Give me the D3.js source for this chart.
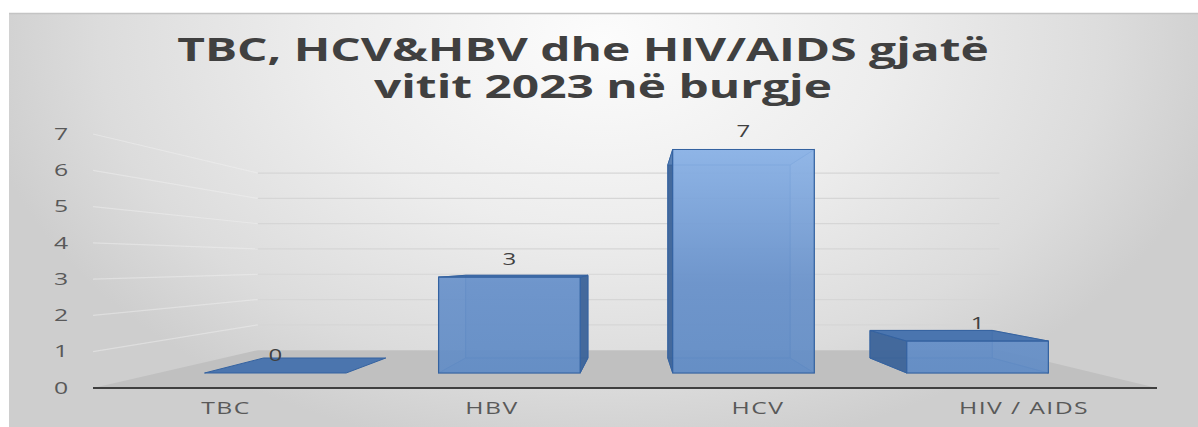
<!DOCTYPE html>
<html>
<head>
<meta charset="utf-8">
<script src="https://cdn.jsdelivr.net/npm/d3@7"></script>
<style>
  html, body { margin: 0; padding: 0; background: #ffffff; }
  svg { display: block; }
  text { font-family: "Open Sans", "Noto Sans", sans-serif; }
</style>
</head>
<body>
<svg id="chart" width="1198" height="427"></svg>
<script>
// Data
const categories = ["TBC", "HBV", "HCV", "HIV / AIDS"];
const values = [0, 3, 7, 1];
const yTicks = [0, 1, 2, 3, 4, 5, 6, 7];
const titleLines = ["TBC, HCV&HBV dhe HIV/AIDS gjatë", "vitit 2023 në burgje"];

const W = 1198, H = 427;
const svg = d3.select("#chart");
const defs = svg.append("defs");

// Horizontal text stretch used by the chart
const SX = 1.55, SX_TITLE = 1.52;

// Background gradient of the chart area
const bg = defs.append("radialGradient")
  .attr("id", "bgGrad")
  .attr("gradientUnits", "userSpaceOnUse")
  .attr("cx", 603).attr("cy", 40).attr("r", 1)
  .attr("gradientTransform", "translate(603,40) scale(630,420) translate(-603,-40)");
bg.append("stop").attr("offset", 0).attr("stop-color", "#fcfcfc");
bg.append("stop").attr("offset", 0.45).attr("stop-color", "#ededed");
bg.append("stop").attr("offset", 0.8).attr("stop-color", "#dcdcdc");
bg.append("stop").attr("offset", 1).attr("stop-color", "#cecece");

const frontGrad = defs.append("linearGradient")
  .attr("id", "frontGrad")
  .attr("gradientUnits", "userSpaceOnUse")
  .attr("x1", 0).attr("y1", 140).attr("x2", 0).attr("y2", 380);
frontGrad.append("stop").attr("offset", 0).attr("stop-color", "#8cb4e8");
frontGrad.append("stop").attr("offset", 0.6).attr("stop-color", "#6891ca");
frontGrad.append("stop").attr("offset", 1).attr("stop-color", "#618cc5");

svg.append("rect")
  .attr("x", 9).attr("y", 13).attr("width", W - 9).attr("height", H - 13)
  .attr("fill", "url(#bgGrad)");
svg.append("line")
  .attr("x1", 9).attr("x2", W).attr("y1", 13.5).attr("y2", 13.5)
  .attr("stroke", "#c4c4c4").attr("stroke-width", 1.5);

// Scales on the front plane
const x = d3.scaleBand().domain(categories).range([93, 1157]);
const y = d3.scaleLinear().domain([0, 7]).range([388, 134]);

// One-point perspective: depth factor s = 1 at the front plane
const VP = [637, 263];
const proj = (X, Y, s) => [VP[0] + (X - VP[0]) * s, VP[1] + (Y - VP[1]) * s];
const S_BACK = 0.697;             // back wall
const S_BAR_FRONT = 0.88, S_BAR_BACK = 0.76;
const poly = pts => "M" + pts.map(p => p.join(",")).join("L") + "Z";

const X0 = x.range()[0], X1 = x.range()[1];

// Floor
svg.append("path")
  .attr("d", poly([proj(X0, y(0), 1), proj(X1, y(0), 1), proj(X1, y(0), S_BACK), proj(X0, y(0), S_BACK)]))
  .attr("fill", "#c0c0c0");

// Gridlines: left wall and back wall
const grid = svg.append("g");
yTicks.filter(t => t > 0).forEach(t => {
  const a = proj(X0, y(t), 1), b = proj(X0, y(t), S_BACK), c = proj(X1, y(t), S_BACK);
  grid.append("line").attr("x1", a[0]).attr("y1", a[1]).attr("x2", b[0]).attr("y2", b[1])
    .attr("stroke", "#f2f2f2").attr("stroke-opacity", 0.45).attr("stroke-width", 1.2);
  grid.append("line").attr("x1", b[0]).attr("y1", b[1]).attr("x2", c[0]).attr("y2", c[1])
    .attr("stroke", "#d6d6d6").attr("stroke-width", 1.2);
});

// Base line
svg.append("line")
  .attr("x1", X0).attr("x2", X1).attr("y1", y(0)).attr("y2", y(0))
  .attr("stroke", "#3f3f3f").attr("stroke-width", 2);

// Bars as translucent boxes
const EDGE = "#3462a0";
const bars = svg.append("g");
categories.forEach((cat, i) => {
  const v = values[i];
  const cx = x(cat) + x.bandwidth() / 2;
  const hw = x.bandwidth() * 0.3025;
  const xl = cx - hw, xr = cx + hw, yb = y(0), yt = y(v);
  const f = (X, Y) => proj(X, Y, S_BAR_FRONT);
  const b = (X, Y) => proj(X, Y, S_BAR_BACK);
  const g = bars.append("g");

  if (v > 0) {
    // back face
    g.append("path").attr("d", poly([b(xl, yb), b(xr, yb), b(xr, yt), b(xl, yt)]))
      .attr("fill", "#5c88c2").attr("fill-opacity", 0.3)
      .attr("stroke", EDGE).attr("stroke-opacity", 0.6).attr("stroke-width", 1);
    // bottom
    g.append("path").attr("d", poly([f(xl, yb), f(xr, yb), b(xr, yb), b(xl, yb)]))
      .attr("fill", "#5a86c0").attr("fill-opacity", 0.4)
      .attr("stroke", EDGE).attr("stroke-opacity", 0.5);
    // side faces
    const leftVisible = xl > VP[0];
    const sideL = poly([f(xl, yb), b(xl, yb), b(xl, yt), f(xl, yt)]);
    const sideR = poly([f(xr, yb), b(xr, yb), b(xr, yt), f(xr, yt)]);
    g.append("path").attr("d", leftVisible ? sideR : sideL)
      .attr("fill", "none").attr("stroke", EDGE).attr("stroke-opacity", 0.5);
    g.append("path").attr("d", leftVisible ? sideL : sideR)
      .attr("fill", "#3d6499").attr("fill-opacity", 0.95)
      .attr("stroke", EDGE).attr("stroke-width", 1);
  }
  // top face
  const top = poly([f(xl, yt), f(xr, yt), b(xr, yt), b(xl, yt)]);
  if (yt > VP[1]) {
    g.append("path").attr("d", top)
      .attr("fill", "#4471ad").attr("fill-opacity", 0.95)
      .attr("stroke", EDGE).attr("stroke-width", 1);
  } else {
    g.append("path").attr("d", top)
      .attr("fill", "#7aa5dc").attr("fill-opacity", 0.35)
      .attr("stroke", EDGE).attr("stroke-opacity", 0.6);
  }
  if (v > 0) {
    // front face
    g.append("path").attr("d", poly([f(xl, yb), f(xr, yb), f(xr, yt), f(xl, yt)]))
      .attr("fill", "url(#frontGrad)").attr("fill-opacity", 0.92)
      .attr("stroke", EDGE).attr("stroke-width", 1.2);
  }

  // value label above the front top edge
  const ft = f(cx, yt);
  svg.append("text")
    .attr("transform", `translate(${ft[0]},${ft[1] - 12}) scale(${SX},1)`)
    .attr("text-anchor", "middle")
    .attr("font-size", 15.5).attr("fill", "#404040")
    .text(v);
});

// Value axis labels on the front plane
yTicks.forEach(t => {
  svg.append("text")
    .attr("transform", `translate(61,${y(t)}) scale(${SX},1)`)
    .attr("text-anchor", "middle").attr("dy", "0.36em")
    .attr("font-size", 16).attr("fill", "#595959")
    .text(t);
});

// Category labels
categories.forEach(cat => {
  svg.append("text")
    .attr("transform", `translate(${x(cat) + x.bandwidth() / 2},414) scale(${SX},1)`)
    .attr("text-anchor", "middle")
    .attr("font-size", 16).attr("letter-spacing", 0.9).attr("fill", "#595959")
    .text(cat);
});

// Two-line title in a single text element
const titleX = [583, 603], titleY = [61, 98];
const title = svg.append("text")
  .attr("transform", `scale(${SX_TITLE},1)`)
  .attr("text-anchor", "middle")
  .attr("font-size", 31.5).attr("font-weight", 700).attr("fill", "#404040");
titleLines.forEach((line, i) => {
  title.append("tspan")
    .attr("x", titleX[i] / SX_TITLE).attr("y", titleY[i])
    .text(line);
});
</script>
</body>
</html>
